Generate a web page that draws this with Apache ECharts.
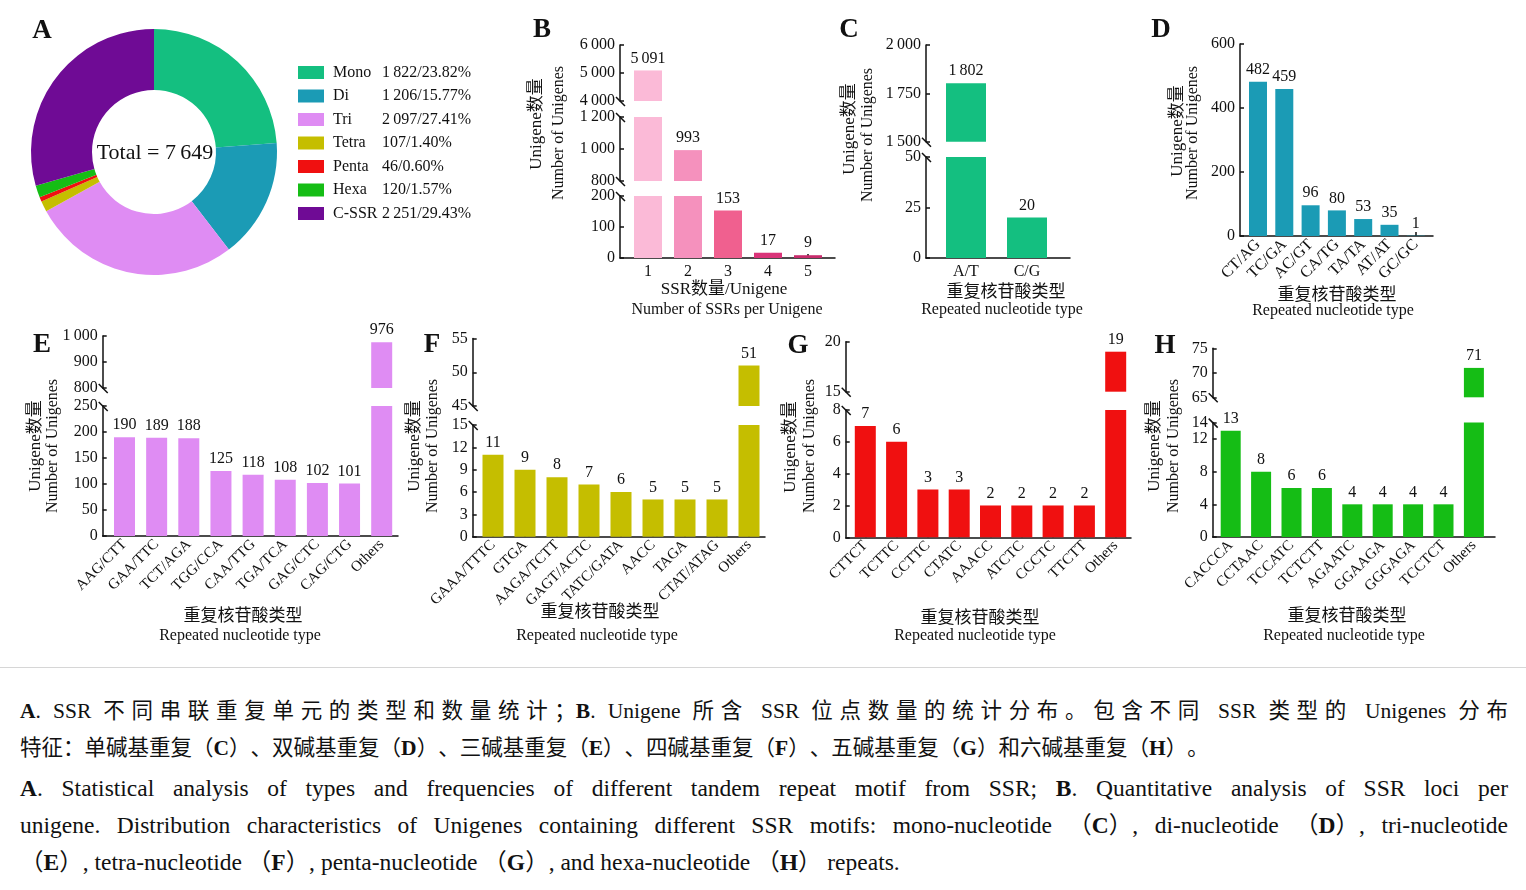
<!DOCTYPE html>
<html>
<head>
<meta charset="utf-8">
<script src="https://cdn.jsdelivr.net/npm/echarts@6.0.0/dist/echarts.min.js"></script>
<style>
html,body{margin:0;padding:0;background:#fff;width:1526px;height:890px;overflow:hidden;}
#chart{position:absolute;left:0;top:0;width:1526px;height:665px;}
#sep{position:absolute;left:0;top:667px;width:1526px;height:0;border-top:1px solid #d6d6d6;}
.cap{position:absolute;left:20px;width:1488px;font-family:"Liberation Serif","Noto Sans CJK SC",serif;line-height:30px;color:#111;}
.cn{font-size:21.5px;}
.en{font-size:23.5px;text-justify:inter-word;}
.j{text-align:justify;text-align-last:justify;}
.cap b{font-weight:bold;}
.pg{display:inline-block;}
</style>
</head>
<body>
<div id="chart"></div>
<div id="sep"></div>
<div class="cap cn j" style="top:696px"><b>A</b>. SSR 不同串联重复单元的类型和数量统计；<b>B</b>. Unigene 所含 SSR 位点数量的统计分布。包含不同 SSR 类型的 Unigenes 分布</div>
<div class="cap cn" style="top:733px">特征：单碱基重复<span class="pg">（<b>C</b>）</span>、双碱基重复<span class="pg">（<b>D</b>）</span>、三碱基重复<span class="pg">（<b>E</b>）</span>、四碱基重复<span class="pg">（<b>F</b>）</span>、五碱基重复<span class="pg">（<b>G</b>）</span>和六碱基重复<span class="pg">（<b>H</b>）</span>。</div>
<div class="cap en j" style="top:773px"><b>A</b>. Statistical analysis of types and frequencies of different tandem repeat motif from SSR; <b>B</b>. Quantitative analysis of SSR loci per</div>
<div class="cap en j" style="top:810px">unigene. Distribution characteristics of Unigenes containing different SSR motifs: mono-nucleotide <span class="pg">（<b>C</b>）,</span> di-nucleotide <span class="pg">（<b>D</b>）,</span> tri-nucleotide</div>
<div class="cap en" style="top:847px"><span class="pg">（<b>E</b>）,</span> tetra-nucleotide <span class="pg">（<b>F</b>）,</span> penta-nucleotide <span class="pg">（<b>G</b>）,</span> and hexa-nucleotide <span class="pg">（<b>H</b>）</span> repeats.</div>
<script>
// ---------------- DATA ----------------
const pieNames = ['Mono', 'Di', 'Tri', 'Tetra', 'Penta', 'Hexa', 'C-SSR'];
const pieValues = [1822, 1206, 2097, 107, 46, 120, 2251];
const piePercents = ['23.82%', '15.77%', '27.41%', '1.40%', '0.60%', '1.57%', '29.43%'];

const bCategories = ['1', '2', '3', '4', '5'];
const bValues = [5091, 993, 153, 17, 9];
const bTicks = [[0, 200, 100], [800, 1200, 200], [4000, 6000, 1000]];

const cCategories = ['A/T', 'C/G'];
const cValues = [1802, 20];
const cTicks = [[0, 50, 25], [1500, 2000, 250]];

const dCategories = ['CT/AG', 'TC/GA', 'AC/GT', 'CA/TG', 'TA/TA', 'AT/AT', 'GC/GC'];
const dValues = [482, 459, 96, 80, 53, 35, 1];
const dTicks = [[0, 600, 200]];

const eCategories = ['AAG/CTT', 'GAA/TTC', 'TCT/AGA', 'TGG/CCA', 'CAA/TTG', 'TGA/TCA', 'GAG/CTC', 'CAG/CTG', 'Others'];
const eValues = [190, 189, 188, 125, 118, 108, 102, 101, 976];
const eTicks = [[0, 250, 50], [800, 1000, 100]];

const fCategories = ['GAAA/TTTC', 'GTGA', 'AAGA/TCTT', 'GAGT/ACTC', 'TATC/GATA', 'AACC', 'TAGA', 'CTAT/ATAG', 'Others'];
const fValues = [11, 9, 8, 7, 6, 5, 5, 5, 51];
const fTicks = [[0, 15, 3], [45, 55, 5]];

const gCategories = ['CTTCT', 'TCTTC', 'CCTTC', 'CTATC', 'AAACC', 'ATCTC', 'CCCTC', 'TTCTT', 'Others'];
const gValues = [7, 6, 3, 3, 2, 2, 2, 2, 19];
const gTicks = [[0, 8, 2], [15, 20, 5]];

const hCategories = ['CACCCA', 'CCTAAC', 'TCCATC', 'TCTCTT', 'AGAATC', 'GGAAGA', 'GGGAGA', 'TCCTCT', 'Others'];
const hValues = [13, 8, 6, 6, 4, 4, 4, 4, 71];
const hTicks = [[0, 14, 4], [65, 75, 5]];

// ---------------- STYLE / LAYOUT ----------------
const FONT = '"Liberation Serif","Times New Roman","Noto Sans CJK SC",serif';
const INK = '#111';
const pieColors = ['#14bf80', '#1b9bb5', '#df8cf3', '#c5be00', '#f01010', '#15bd15', '#6f0b95'];
const yName1 = 'Unigene数量', yName2 = 'Number of Unigenes';
const xNameCn = '重复核苷酸类型', xNameEn = 'Repeated nucleotide type';

function fmt(v) {
  const s = String(Math.round(v));
  return s.length > 3 ? s.slice(0, -3) + '\u2009' + s.slice(-3) : s;
}

const panels = [
  {letter: 'B', cats: bCategories, vals: bValues, ticks: bTicks, colors: ['#fbbad7', '#f591bd', '#f0608f', '#da3479', '#c72c6c'],
   x0: 620, x1: 835, c0: 648, step: 40, bw: 28, boxes: [[258, 196], [181, 117], [101, 45]], rotate: 0, xfs: 16,
   yn1: [537, 124], yn2: [559, 133], xn1: [724, 290, 'SSR数量/Unigene'], xn2: [727, 310, 'Number of SSRs per Unigene'], lp: [542, 30]},
  {letter: 'C', cats: cCategories, vals: cValues, ticks: cTicks, colors: ['#14bf80'],
   x0: 926, x1: 1070, c0: 966, step: 61, bw: 40, boxes: [[258, 157], [141.7, 45]], rotate: 0, xfs: 16,
   yn1: [850, 129], yn2: [868, 135], xn1: [1006, 293, xNameCn], xn2: [1002, 310, xNameEn], lp: [849, 30]},
  {letter: 'D', cats: dCategories, vals: dValues, ticks: dTicks, colors: ['#1b9bb5'],
   x0: 1240, x1: 1433, c0: 1258, step: 26.3, bw: 18, boxes: [[236, 44]], rotate: 45, xfs: 16,
   yn1: [1178, 131], yn2: [1193, 133], xn1: [1337, 296, xNameCn], xn2: [1333, 311, xNameEn], lp: [1161, 30]},
  {letter: 'E', cats: eCategories, vals: eValues, ticks: eTicks, colors: ['#df8cf3'],
   x0: 102.7, x1: 398, c0: 124.5, step: 32.15, bw: 21, boxes: [[536, 406], [388, 336]], rotate: 45, xfs: 15,
   yn1: [36, 446], yn2: [53, 446], xn1: [243, 617, xNameCn], xn2: [240, 636, xNameEn], lp: [42, 345]},
  {letter: 'F', cats: fCategories, vals: fValues, ticks: fTicks, colors: ['#c5be00'],
   x0: 472.7, x1: 765, c0: 493, step: 32, bw: 21, boxes: [[536.7, 425], [406, 338.5]], rotate: 45, xfs: 15,
   yn1: [415, 446], yn2: [433, 446], xn1: [600, 613, xNameCn], xn2: [597, 636, xNameEn], lp: [432, 345]},
  {letter: 'G', cats: gCategories, vals: gValues, ticks: gTicks, colors: ['#f01010'],
   x0: 845.7, x1: 1131, c0: 865.3, step: 31.3, bw: 21, boxes: [[537.3, 410], [391.7, 341.7]], rotate: 45, xfs: 15,
   yn1: [791, 447], yn2: [810, 446], xn1: [980, 619, xNameCn], xn2: [975, 636, xNameEn], lp: [798, 346]},
  {letter: 'H', cats: hCategories, vals: hValues, ticks: hTicks, colors: ['#15bd15'],
   x0: 1212.7, x1: 1495, c0: 1230.7, step: 30.4, bw: 20, boxes: [[537, 422.6], [397.3, 348.3]], rotate: 45, xfs: 15,
   yn1: [1155, 446], yn2: [1174, 446], xn1: [1347, 617, xNameCn], xn2: [1344, 636, xNameEn], lp: [1165, 346]}
];

function text(x, y, t, size, opts) {
  opts = opts || {};
  return {type: 'text', x: x, y: y, rotation: opts.rot || 0, z: 10,
    style: {text: t, fontSize: size, fontFamily: FONT, fontWeight: opts.weight || 'normal', fill: INK,
      align: 'center', verticalAlign: 'middle'}};
}
function slash(x, y) {
  return {type: 'line', z: 10, shape: {x1: x - 4, y1: y - 4, x2: x + 5, y2: y + 5},
    style: {stroke: INK, lineWidth: 1.5}};
}

const grids = [], xAxes = [], yAxes = [], series = [], graphics = [];

panels.forEach(function (p) {
  const xmin = -(p.c0 - p.x0) / p.step, xmax = (p.x1 - p.c0) / p.step;
  const idx = p.cats.map(function (_, i) { return i; });
  p.ticks.forEach(function (s, k) {
    const bottom = p.boxes[k][0], top = p.boxes[k][1];
    const gi = grids.length;
    grids.push({left: p.x0, top: top, width: p.x1 - p.x0, height: bottom - top, containLabel: false, outerBoundsMode: 'none'});
    xAxes.push({gridIndex: gi, type: 'value', min: xmin, max: xmax, show: k === 0,
      axisLine: {show: true, onZero: false, lineStyle: {color: INK, width: 1.5}},
      axisTick: {show: true, inside: true, length: 4, customValues: idx, lineStyle: {color: INK, width: 1.5}},
      axisLabel: {show: true, customValues: idx, rotate: p.rotate, fontSize: p.xfs, fontFamily: FONT, color: INK, margin: 6,
        formatter: function (v) { const c = p.cats[Math.round(v)]; return c === undefined ? '' : c; }},
      splitLine: {show: false}});
    yAxes.push({gridIndex: gi, type: 'value', min: s[0], max: s[1], interval: s[2],
      axisLine: {show: true, onZero: false, lineStyle: {color: INK, width: 1.5}},
      axisTick: {show: true, inside: true, length: 4, lineStyle: {color: INK, width: 1.5}},
      axisLabel: {formatter: fmt, fontSize: 16, fontFamily: FONT, color: INK, margin: 5},
      splitLine: {show: false}});
    series.push({type: 'bar', xAxisIndex: gi, yAxisIndex: gi, barWidth: p.bw, clip: true, silent: true, animation: false,
      data: p.vals.map(function (v, i) { return {value: [i, v], itemStyle: {color: p.colors[i % p.colors.length]}}; }),
      label: {show: true, position: 'top', distance: 4, fontSize: 16, fontFamily: FONT, color: INK,
        formatter: function (prm) { const v = prm.value[1]; return (v >= s[0] && v <= s[1]) ? fmt(v) : ''; }}});
    if (k > 0) graphics.push(slash(p.x0, bottom));
    if (k < p.ticks.length - 1) graphics.push(slash(p.x0, top));
  });
  graphics.push(text(p.yn1[0], p.yn1[1], yName1, 17, {rot: Math.PI / 2}));
  graphics.push(text(p.yn2[0], p.yn2[1], yName2, 16, {rot: Math.PI / 2}));
  graphics.push(text(p.xn1[0], p.xn1[1], p.xn1[2], 17));
  graphics.push(text(p.xn2[0], p.xn2[1], p.xn2[2], 16));
  graphics.push(text(p.lp[0], p.lp[1], p.letter, 27, {weight: 'bold'}));
});

// Panel A: donut
const pieTotal = pieValues.reduce(function (a, b) { return a + b; }, 0);
series.push({type: 'pie', center: [154, 152], radius: [62, 123], startAngle: 90, clockwise: true,
  silent: true, animation: false, label: {show: false}, labelLine: {show: false},
  data: pieNames.map(function (n, i) { return {name: n, value: pieValues[i], itemStyle: {color: pieColors[i]}}; })});
graphics.push(text(155, 153, 'Total = ' + fmt(pieTotal), 22));
graphics.push(text(42, 31, 'A', 27, {weight: 'bold'}));

const chart = echarts.init(document.getElementById('chart'), null, {renderer: 'canvas'});
chart.setOption({
  backgroundColor: '#fff',
  animation: false,
  textStyle: {fontFamily: FONT},
  grid: grids,
  xAxis: xAxes,
  yAxis: yAxes,
  legend: {
    orient: 'vertical', left: 293, top: 59.5, itemWidth: 26, itemHeight: 13, itemGap: 7.5,
    icon: 'rect', selectedMode: false, data: pieNames,
    formatter: function (name) {
      const i = pieNames.indexOf(name);
      return '{n|' + name + '}{v|' + fmt(pieValues[i]) + '/' + piePercents[i] + '}';
    },
    textStyle: {fontFamily: FONT, fontSize: 16, color: INK, lineHeight: 16,
      rich: {n: {width: 49, padding: [0, 0, 0, 4], fontFamily: FONT, fontSize: 16, color: INK},
             v: {fontFamily: FONT, fontSize: 16, color: INK}}}
  },
  series: series,
  graphic: graphics
});
</script>
</body>
</html>
